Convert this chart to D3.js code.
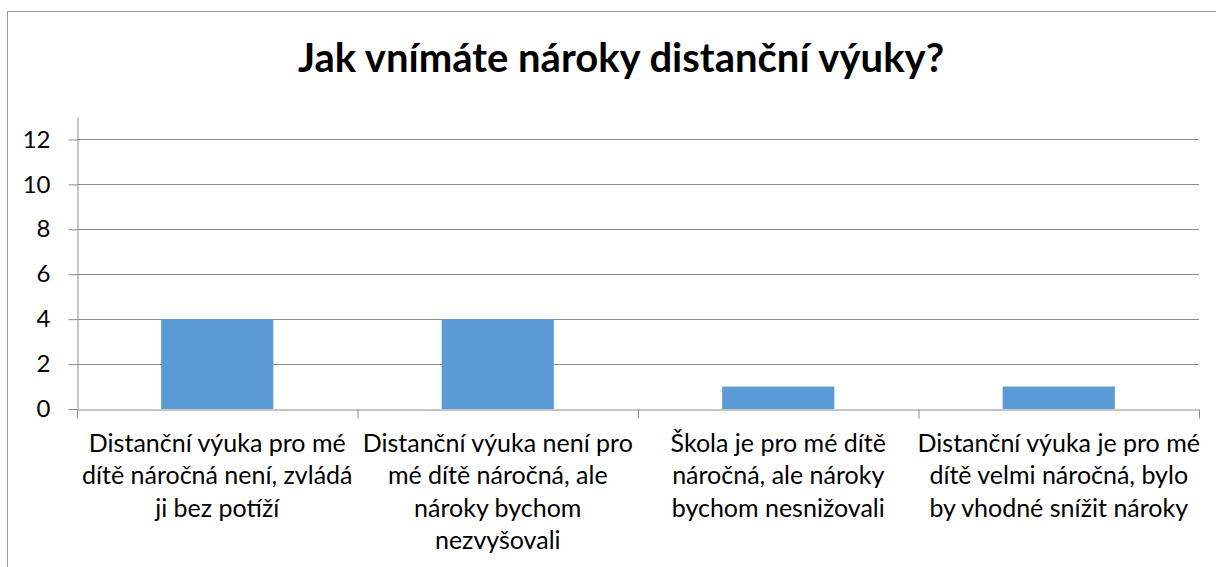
<!DOCTYPE html>
<html>
<head>
<meta charset="utf-8">
<script src="https://cdn.jsdelivr.net/npm/d3@7"></script>
<style>
  body { margin: 0; background: #fff; }
  svg { display: block; font-family: Lato, "Open Sans", sans-serif; }
</style>
</head>
<body>
<svg></svg>
<script>
var title = "Jak vnímáte nároky distanční výuky?";

var categories = [
    ["Distanční výuka pro mé", "dítě náročná není, zvládá", "ji bez potíží"],
    ["Distanční výuka není pro", "mé dítě náročná, ale", "nároky bychom", "nezvyšovali"],
    ["Škola je pro mé dítě", "náročná, ale nároky", "bychom nesnižovali"],
    ["Distanční výuka je pro mé", "dítě velmi náročná, bylo", "by vhodné snížit nároky"]
];
var values = [4, 4, 1, 1];
var yTicks = [0, 2, 4, 6, 8, 10, 12];

var W = 1216, H = 567;
var plotLeft = 77, plotRight = 1199, plotTop = 117, plotBottom = 409;

var svg = d3.select("svg")
    .attr("width", W)
    .attr("height", H);

// outer chart border (runs off the right and bottom edge)
svg.append("rect")
    .attr("x", 7.5)
    .attr("y", 11.5)
    .attr("width", 1230)
    .attr("height", 600)
    .attr("fill", "none")
    .attr("stroke", "#9a9a9a")
    .attr("stroke-width", 1);

svg.append("text")
    .attr("x", 621)
    .attr("y", 72)
    .attr("text-anchor", "middle")
    .style("font-size", "40px")
    .style("font-weight", "bold")
    .style("fill", "#000")
    .text(title);

var xScale = d3.scaleBand()
    .domain(d3.range(categories.length))
    .range([plotLeft, plotRight])
    .paddingInner(0.6)
    .paddingOuter(0.3);

var xTickScale = d3.scaleLinear().domain([0, categories.length]).range([plotLeft, plotRight]);

var yScale = d3.scaleLinear().domain([0, 13]).range([plotBottom, plotTop]);

// gridlines
svg.append("g")
    .selectAll("line")
    .data(yTicks.filter(function(d) { return d > 0; }))
    .enter().append("line")
    .attr("x1", plotLeft)
    .attr("x2", plotRight)
    .attr("y1", function(d) { return Math.round(yScale(d)) + 0.5; })
    .attr("y2", function(d) { return Math.round(yScale(d)) + 0.5; })
    .attr("stroke", "#8c8c8c")
    .attr("stroke-width", 1);

// bars
svg.append("g")
    .selectAll("rect")
    .data(values)
    .enter().append("rect")
    .attr("x", function(d, i) { return xScale(i); })
    .attr("y", function(d) { return yScale(d); })
    .attr("width", xScale.bandwidth())
    .attr("height", function(d) { return yScale(0) - yScale(d); })
    .attr("fill", "#5b9bd5");

// y axis
var yAxis = d3.axisLeft(yScale)
    .tickValues(yTicks)
    .tickSize(9)
    .tickPadding(18)
    .tickSizeOuter(0);

var gy = svg.append("g")
    .attr("transform", "translate(" + (plotLeft + 0.5) + ",0)")
    .call(yAxis);
gy.select(".domain").attr("stroke", "#8c8c8c");
gy.selectAll(".tick line").attr("stroke", "#8c8c8c");
gy.selectAll(".tick text")
    .style("font-size", "24px")
    .style("font-family", "Lato, sans-serif")
    .attr("fill", "#000");

// x axis (category boundaries)
var xAxis = d3.axisBottom(xTickScale)
    .tickValues(d3.range(categories.length + 1))
    .tickSize(9)
    .tickSizeOuter(0)
    .tickFormat("");

var gx = svg.append("g")
    .attr("transform", "translate(0," + (plotBottom + 0.5) + ")")
    .call(xAxis);
gx.select(".domain").attr("stroke", "#8c8c8c");
gx.selectAll(".tick line").attr("stroke", "#8c8c8c");

// category labels
var labels = svg.append("g")
    .selectAll("text")
    .data(categories)
    .enter().append("text")
    .attr("text-anchor", "middle")
    .style("font-size", "25px")
    .style("fill", "#000");

labels.selectAll("tspan")
    .data(function(d, i) { return d.map(function(t) { return { t: t, i: i }; }); })
    .enter().append("tspan")
    .attr("x", function(d) { return xScale(d.i) + xScale.bandwidth() / 2; })
    .attr("y", function(d, j) { return 452 + j * 32.3; })
    .text(function(d) { return d.t; });
</script>
</body>
</html>
